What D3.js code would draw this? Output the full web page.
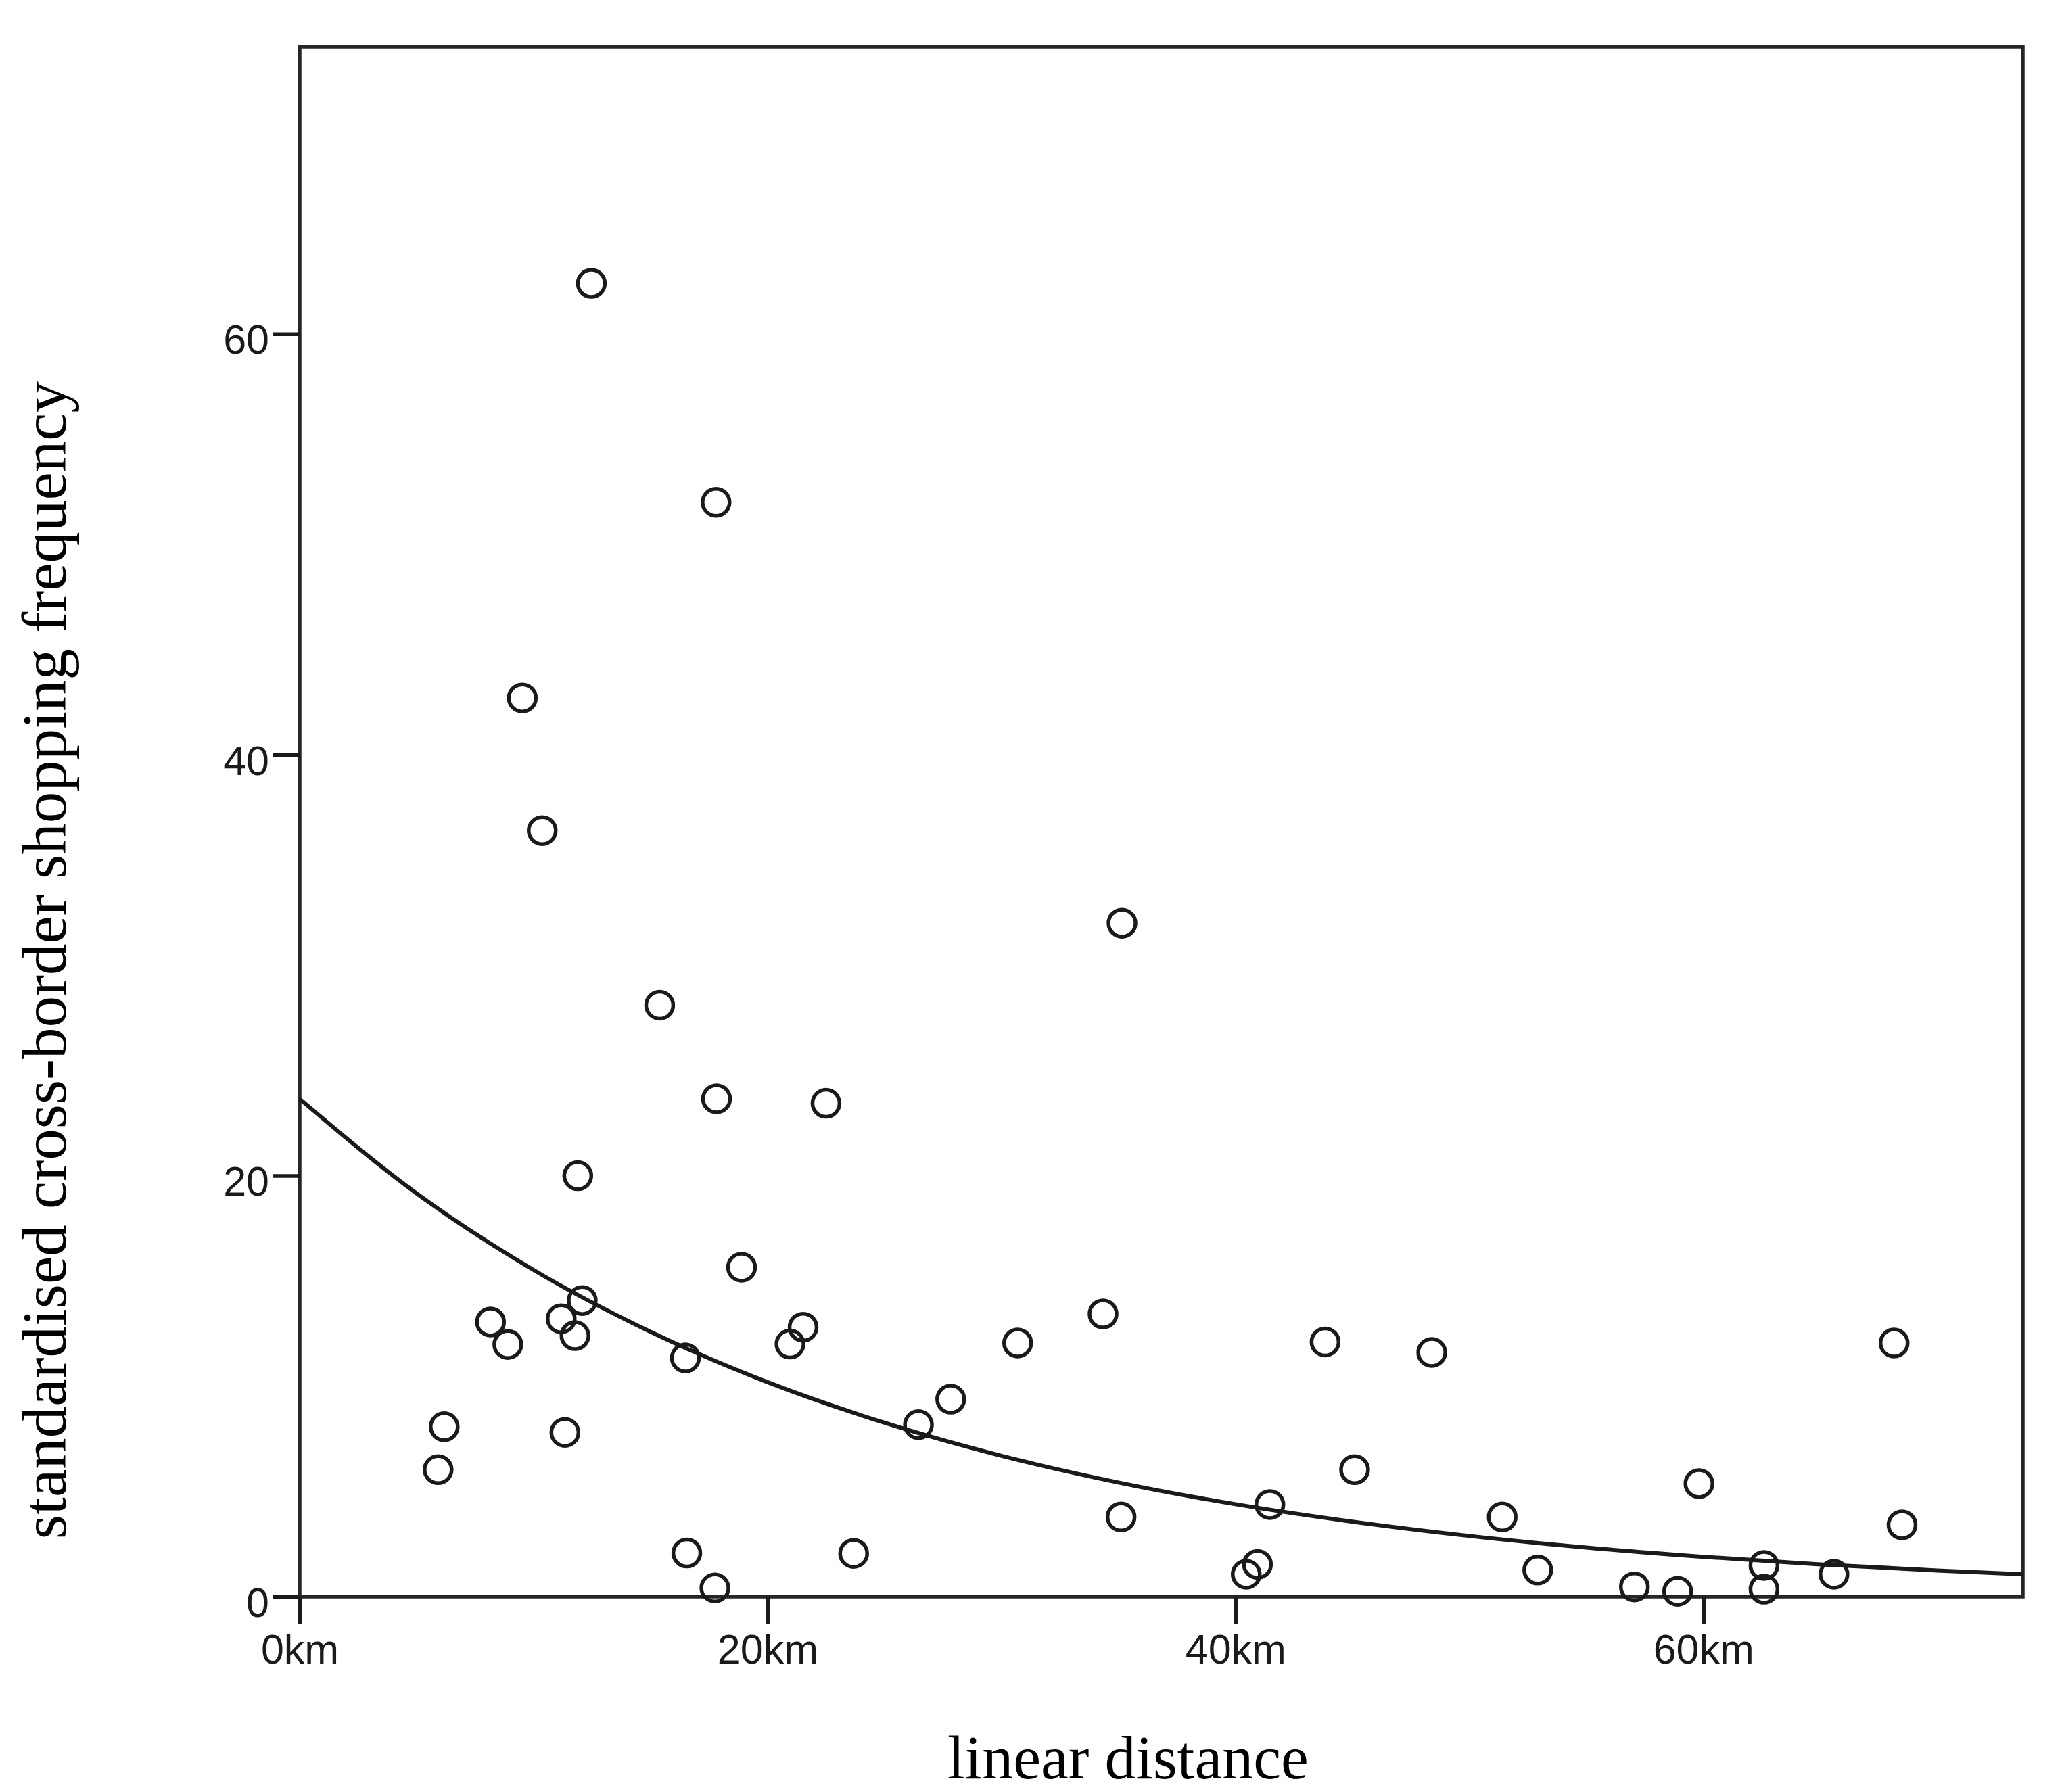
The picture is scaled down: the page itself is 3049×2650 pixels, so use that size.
<!DOCTYPE html>
<html>
<head>
<meta charset="utf-8">
<script src="https://cdn.jsdelivr.net/npm/d3@7"></script>
<style>
  html, body { margin: 0; padding: 0; background: #ffffff; }
  svg { display: block; }
</style>
</head>
<body>
<script>
// ---- data ----
const distanceKm = [12.47, 17.8, 9.52, 10.37, 35.15, 15.39, 17.82, 22.5, 11.89, 18.89,
  12.08, 8.16, 11.18, 8.9, 11.77, 21.52, 20.96, 16.49, 34.34, 30.69,
  43.83, 48.39, 68.15, 6.18, 5.92, 11.34, 27.83, 26.45, 45.09, 59.81,
  41.47, 35.11, 51.4, 68.49, 16.55, 23.68, 17.75, 40.94, 40.46, 52.92,
  57.05, 58.9, 62.59, 62.59, 65.58];
const frequency = [62.4, 52.0, 42.7, 36.4, 32.0, 28.1, 23.65, 23.44, 20.0, 15.65,
  14.07, 13.05, 13.2, 11.98, 12.4, 12.8, 12.0, 11.34, 13.43, 12.05,
  12.1, 11.6, 12.05, 8.07, 6.03, 7.8, 9.38, 8.17, 6.03, 5.37,
  4.37, 3.78, 3.78, 3.41, 2.07, 2.05, 0.41, 1.53, 1.06, 1.26,
  0.46, 0.25, 1.48, 0.35, 1.06];

// fitted curve
const fitX = [0, 5, 10, 15, 20, 25, 30, 35, 40, 45, 50, 55, 60, 65, 70, 73.65];
const fitY = [23.65, 19.16, 15.52, 12.58, 10.19, 8.26, 6.69, 5.42, 4.39, 3.56, 2.88, 2.33, 1.89, 1.53, 1.24, 1.06];

const xTicks = [0, 20, 40, 60];
const yTicks = [0, 20, 40, 60];
const xTickSuffix = "km";
const xTitle = "linear distance";
const yTitle = "standardised cross-border shopping frequency";

// ---- layout ----
const W = 3049, H = 2650;
const plotL = 443, plotR = 2991, plotT = 69, plotB = 2361;
const xMax = 73.65, yMax = 73.65;
const ink = "#1a1a1a";

const svg = d3.select("body").append("svg")
  .attr("width", W).attr("height", H)
  .style("background", "#ffffff");

const x = d3.scaleLinear().domain([0, xMax]).range([plotL, plotR]);
const y = d3.scaleLinear().domain([0, yMax]).range([plotB, plotT]);

// frame
svg.append("rect")
  .attr("x", plotL).attr("y", plotT)
  .attr("width", plotR - plotL).attr("height", plotB - plotT)
  .attr("fill", "none").attr("stroke", "#262626").attr("stroke-width", 5.5);

// axes
const yAxis = svg.append("g")
  .attr("transform", `translate(${plotL},0)`)
  .call(d3.axisLeft(y).tickValues(yTicks).tickSize(40).tickPadding(5));
const xAxis = svg.append("g")
  .attr("transform", `translate(0,${plotB})`)
  .call(d3.axisBottom(x).tickValues(xTicks).tickSize(40).tickPadding(16)
        .tickFormat(d => d + xTickSuffix));

[yAxis, xAxis].forEach(g => {
  g.select(".domain").remove();
  g.selectAll(".tick line").attr("stroke", ink).attr("stroke-width", 5.5);
  g.selectAll(".tick text")
    .attr("fill", ink)
    .style("font-family", "'Liberation Sans', Arial, sans-serif")
    .style("font-size", "61px");
});
yAxis.selectAll(".tick text").attr("dy", "29px");

// fitted curve
const line = d3.line()
  .x((d, i) => x(fitX[i]))
  .y((d, i) => y(fitY[i]))
  .curve(d3.curveMonotoneX);
svg.append("path")
  .datum(fitX)
  .attr("d", line)
  .attr("fill", "none")
  .attr("stroke", ink)
  .attr("stroke-width", 6);

// points
svg.append("g").selectAll("circle")
  .data(distanceKm.map((d, i) => [d, frequency[i]]))
  .join("circle")
  .attr("cx", d => x(d[0]))
  .attr("cy", d => y(d[1]))
  .attr("r", 20)
  .attr("fill", "none")
  .attr("stroke", ink)
  .attr("stroke-width", 5.5);

// titles
svg.append("text")
  .attr("x", 1668).attr("y", 2630)
  .attr("text-anchor", "middle")
  .style("font-family", "'Liberation Serif', 'Times New Roman', serif")
  .style("font-size", "92px")
  .attr("fill", "#000")
  .text(xTitle);

svg.append("text")
  .attr("transform", "translate(97,1420) rotate(-90)")
  .attr("text-anchor", "middle")
  .style("font-family", "'Liberation Serif', 'Times New Roman', serif")
  .style("font-size", "93px")
  .attr("fill", "#000")
  .text(yTitle);
</script>
</body>
</html>
